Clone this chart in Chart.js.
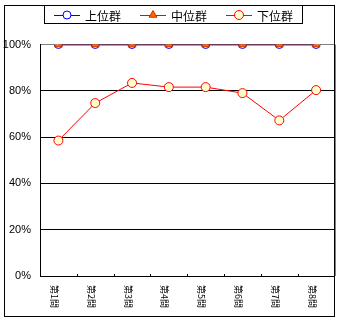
<!DOCTYPE html>
<html>
<head>
<meta charset="utf-8">
<script src="https://cdn.jsdelivr.net/npm/chart.js@4/dist/chart.umd.min.js"></script>
<style>
  html, body { margin: 0; padding: 0; background: #ffffff; }
  #wrap { width: 340px; height: 322px; }
</style>
</head>
<body>
<div id="wrap"><canvas id="c" width="340" height="322"></canvas></div>
<script>
// Question labels and correct-answer rates (%) per group
const categories = ['第1問', '第2問', '第3問', '第4問', '第5問', '第6問', '第7問', '第8問'];
const upperGroup = [100, 100, 100, 100, 100, 100, 100, 100];
const middleGroup = [100, 100, 100, 100, 100, 100, 100, 100];
const lowerGroup = [58.5, 74.7, 83.4, 81.6, 81.6, 79.0, 67.2, 80.3];
const seriesNames = ['上位群', '中位群', '下位群'];
const yMin = 0, yMax = 100, yStep = 20;

const JP = '"Noto Sans CJK JP", "Noto Sans", sans-serif';
Chart.defaults.font.family = JP;

// Outer frame, plot right edge, inner category ticks and vertical category labels
const framePlugin = {
  id: 'frame',
  afterDraw(chart) {
    const ctx = chart.ctx;
    const area = chart.chartArea;
    const xs = chart.scales.x;
    ctx.save();
    // plot right edge
    ctx.strokeStyle = '#808080';
    ctx.lineWidth = 1;
    ctx.beginPath();
    ctx.moveTo(Math.round(area.right) + 0.5, area.top);
    ctx.lineTo(Math.round(area.right) + 0.5, area.bottom);
    ctx.stroke();
    // outer frame
    ctx.strokeStyle = '#000000';
    ctx.strokeRect(4.5, 5.5, 330, 311);
    // small tick marks between categories
    ctx.beginPath();
    for (let i = 1; i < categories.length; i++) {
      const x = Math.round((xs.getPixelForValue(i - 1) + xs.getPixelForValue(i)) / 2) + 0.5;
      ctx.moveTo(x, area.bottom - 2);
      ctx.lineTo(x, area.bottom);
    }
    ctx.stroke();
    // category labels, rotated to read top-down
    ctx.fillStyle = '#000000';
    ctx.font = '9px ' + JP;
    ctx.textAlign = 'left';
    ctx.textBaseline = 'middle';
    categories.forEach((label, i) => {
      const x = xs.getPixelForValue(i) - 4;
      ctx.save();
      ctx.translate(x, area.bottom + 9);
      ctx.rotate(Math.PI / 2);
      ctx.fillText(label, 0, 0);
      ctx.restore();
    });
    ctx.restore();
  }
};

// Boxed legend with line + marker samples
function drawMarker(ctx, ds, x, y) {
  ctx.save();
  ctx.lineWidth = 1;
  ctx.fillStyle = ds.pointBackgroundColor;
  ctx.strokeStyle = ds.pointBorderColor;
  ctx.beginPath();
  const r = ds.pointRadius;
  if (ds.pointStyle === 'triangle') {
    let rad = 0;
    ctx.moveTo(x + Math.sin(rad) * r, y - Math.cos(rad) * r);
    rad += 2 * Math.PI / 3;
    ctx.lineTo(x + Math.sin(rad) * r, y - Math.cos(rad) * r);
    rad += 2 * Math.PI / 3;
    ctx.lineTo(x + Math.sin(rad) * r, y - Math.cos(rad) * r);
    ctx.closePath();
  } else {
    ctx.arc(x, y, r, 0, Math.PI * 2);
  }
  ctx.fill();
  ctx.stroke();
  ctx.restore();
}

const legendPlugin = {
  id: 'boxLegend',
  afterDraw(chart) {
    const ctx = chart.ctx;
    const boxL = 44.5, boxR = 302.5, boxT = 5.5, boxB = 23.5;
    const lineLen = 26, textGap = 5, itemGap = 19;
    ctx.save();
    ctx.font = '12px ' + JP;
    const dsList = chart.data.datasets.slice().sort((a, b) => a.legendIndex - b.legendIndex);
    const widths = dsList.map(ds => ctx.measureText(ds.label).width);
    const total = widths.reduce((s, w) => s + lineLen + textGap + w, 0) + itemGap * (dsList.length - 1);
    let x = Math.round((boxL + boxR) / 2 - total / 2);
    const cy = 15;
    ctx.fillStyle = '#ffffff';
    ctx.fillRect(boxL, boxT, boxR - boxL, boxB - boxT);
    ctx.strokeStyle = '#000000';
    ctx.lineWidth = 1;
    ctx.strokeRect(boxL, boxT, boxR - boxL, boxB - boxT);
    dsList.forEach((ds, i) => {
      ctx.strokeStyle = ds.borderColor;
      ctx.lineWidth = 1;
      ctx.beginPath();
      ctx.moveTo(x, cy + 0.5);
      ctx.lineTo(x + lineLen, cy + 0.5);
      ctx.stroke();
      drawMarker(ctx, ds, x + lineLen / 2, cy);
      ctx.fillStyle = '#000000';
      ctx.textAlign = 'left';
      ctx.textBaseline = 'middle';
      ctx.fillText(ds.label, x + lineLen + textGap, cy + 1);
      x += lineLen + textGap + widths[i] + itemGap;
    });
    ctx.restore();
  }
};

new Chart(document.getElementById('c'), {
  type: 'line',
  data: {
    labels: categories,
    datasets: [
      {
        label: seriesNames[0], legendIndex: 0, order: 2,
        data: upperGroup,
        borderColor: '#0000FF', borderWidth: 1,
        pointStyle: 'circle', pointRadius: 4,
        pointBackgroundColor: '#ffffff', pointBorderColor: '#0000FF', pointBorderWidth: 1
      },
      {
        label: seriesNames[1], legendIndex: 1, order: 1,
        data: middleGroup,
        borderColor: '#993300', borderWidth: 2,
        pointStyle: 'triangle', pointRadius: 4.5,
        pointBackgroundColor: '#FF6600', pointBorderColor: '#CC3300', pointBorderWidth: 1
      },
      {
        label: seriesNames[2], legendIndex: 2, order: 0,
        data: lowerGroup,
        borderColor: '#FF0000', borderWidth: 1,
        pointStyle: 'circle', pointRadius: 4.5,
        pointBackgroundColor: '#FFFFCC', pointBorderColor: '#FF0000', pointBorderWidth: 1
      }
    ]
  },
  options: {
    responsive: false,
    animation: false,
    events: [],
    layout: { padding: { left: 0, right: 5, top: 44.5, bottom: 46 } },
    plugins: { legend: { display: false }, tooltip: { enabled: false } },
    scales: {
      x: {
        offset: true,
        grid: { display: false, drawTicks: false },
        border: { display: true, color: '#000000', width: 1 },
        ticks: { display: false },
        afterFit(scale) { scale.height = 0; }
      },
      y: {
        min: yMin, max: yMax,
        grid: {
          drawTicks: false,
          color: ctx => (ctx.tick && ctx.tick.value === yMax) ? '#808080' : '#000000',
          lineWidth: 1
        },
        border: { display: true, color: '#000000', width: 1 },
        ticks: {
          stepSize: yStep,
          padding: 9,
          color: '#000000',
          font: { family: '"Liberation Sans", sans-serif', size: 11 },
          callback: v => v + '%'
        },
        afterFit(scale) { scale.width = 40; }
      }
    }
  },
  plugins: [framePlugin, legendPlugin]
});
</script>
</body>
</html>
